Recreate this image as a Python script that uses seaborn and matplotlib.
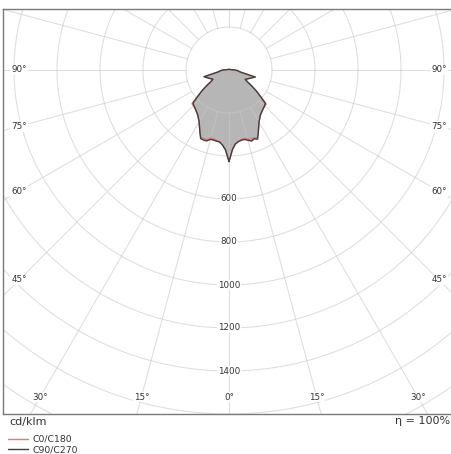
import numpy as np
import matplotlib
matplotlib.use("Agg")
import matplotlib.pyplot as plt
import seaborn as sns
import pandas as pd

# ---------------- data (cd/klm) ----------------
gamma = [0, 2.5, 5, 7.5, 10, 12.5, 15, 17.5, 20, 22.5, 25, 30, 35, 40, 45, 47.5,
         50, 52.5, 55, 57.5, 60, 65, 70, 75, 80, 85, 90, 95, 100, 110, 120, 135, 150, 165, 180]
c0 = [426, 370, 344, 334, 328, 326, 331, 339, 335, 342, 322, 279, 255, 243, 236, 235,
      192, 160, 128, 100, 87, 96, 106, 114, 48, 40, 28, 15, 10, 6, 5, 4, 3, 3, 3]
c180 = [426, 372, 349, 336, 332, 328, 328, 339, 340, 340, 320, 278, 254, 241, 234, 233,
        190, 158, 126, 99, 86, 94, 104, 110, 47, 39, 28, 15, 10, 6, 5, 4, 3, 3, 3]
c90 = [426, 370, 345, 336, 332, 331, 338, 347, 341, 348, 322, 279, 255, 243, 234, 229,
       190, 160, 128, 100, 87, 97, 110, 127, 54, 42, 28, 15, 10, 6, 5, 4, 3, 3, 3]
c270 = [426, 372, 350, 338, 336, 334, 334, 346, 347, 345, 320, 278, 254, 241, 232, 227,
        188, 158, 126, 99, 86, 95, 107, 121, 52, 41, 28, 15, 10, 6, 5, 4, 3, 3, 3]

plane_names = ["C0/C180", "C90/C270"]
plane_colors = ["#e07a7a", "#404040"]
ring_values = [200, 400, 600, 800, 1000, 1200, 1400, 1600, 1800, 2000]
ring_labels = [600, 800, 1000, 1200, 1400]
side_angles = [90, 75, 60, 45]
bottom_angles = [30, 15, 0]
efficiency = "η = 100%"
unit = "cd/klm"


def outline(right, left):
    g = np.radians(np.array(gamma, dtype=float))
    r = np.array(right, dtype=float)
    l = np.array(left, dtype=float)
    xr, yr = r * np.sin(g), -r * np.cos(g)
    xl, yl = -l[::-1] * np.sin(g[::-1]), -l[::-1] * np.cos(g[::-1])
    x = np.concatenate([xr, xl, xr[:1]])
    y = np.concatenate([yr, yl, yr[:1]])
    return x, y


sns.set_theme(style="white")
plt.rcParams["font.family"] = ["DejaVu Sans"]

W, H = 452, 454
fig = plt.figure(figsize=(W / 100, H / 100), dpi=100)
ax = fig.add_axes([3 / W, 40 / H, 449 / W, 405 / H])
scale = 0.215  # px per cd/klm
ax.set_xlim((3 - 229) / scale, (452 - 229) / scale)
ax.set_ylim(-(414 - 70) / scale, (70 - 9) / scale)

# curves
rows = []
polys = []
for name, (rt, lf) in zip(plane_names, [(c0, c180), (c90, c270)]):
    x, y = outline(rt, lf)
    polys.append((x, y))
    for i, (a, b) in enumerate(zip(x, y)):
        rows.append({"plane": name, "x": a, "y": b, "order": i})
df = pd.DataFrame(rows)

for x, y in polys:
    ax.fill(x, y, color="#b6b6b6", lw=0, zorder=1)

# grid
grid_kw = dict(color="#c8c8c8", alpha=0.6, lw=0.75, zorder=2)
t = np.linspace(0, 2 * np.pi, 721)
for rv in ring_values:
    ax.plot(rv * np.cos(t), rv * np.sin(t), **grid_kw)
for a in range(0, 360, 15):
    ar = np.radians(a)
    ax.plot([200 * np.sin(ar), 4000 * np.sin(ar)], [-200 * np.cos(ar), -4000 * np.cos(ar)],
            **grid_kw)

sns.lineplot(data=df, x="x", y="y", hue="plane", palette=dict(zip(plane_names, plane_colors)),
             sort=False, estimator=None, lw=1.0, ax=ax, zorder=3, legend=True)

txt_color = "#333333"
bbox = dict(facecolor="white", edgecolor="none", pad=0.6)
for rv in ring_labels:
    ax.text(0, -rv, str(rv), ha="center", va="center", fontsize=6.3, color=txt_color,
            bbox=bbox, zorder=4)

side_x = 210 / scale
for a in side_angles:
    yy = -side_x / np.tan(np.radians(a)) if a != 90 else 0.0
    for sgn in (-1, 1):
        ax.text(sgn * side_x, yy, f"{a}°", ha="center", va="center", fontsize=6.3,
                color=txt_color, bbox=bbox, zorder=4)
bot_y = -327 / scale
for a in bottom_angles:
    xx = -bot_y * np.tan(np.radians(a))
    for sgn in ((-1, 1) if a else (1,)):
        ax.text(sgn * xx, bot_y, f"{a}°", ha="center", va="center", fontsize=6.3,
                color=txt_color, bbox=bbox, zorder=4)

ax.set_xticks([])
ax.set_yticks([])
ax.set_xlabel("")
ax.set_ylabel("")
for s in ["left", "top", "bottom"]:
    ax.spines[s].set_visible(True)
    ax.spines[s].set_color("#7a7a7a")
    ax.spines[s].set_linewidth(1.0)
ax.spines["right"].set_visible(False)

handles, labels = ax.get_legend_handles_labels()
ax.get_legend().remove()
fig.legend(handles, labels, loc="upper left", bbox_to_anchor=(8 / W, 1 - 435 / H),
           frameon=False, fontsize=6.7, handlelength=2.2, handletextpad=0.45,
           labelspacing=0.12, borderpad=0, borderaxespad=0, labelcolor=txt_color)

fig.text(9 / W, 1 - 421.5 / H, unit, ha="left", va="center", fontsize=8, color=txt_color)
fig.text(450 / W, 1 - 421.5 / H, efficiency, ha="right", va="center", fontsize=8,
         color=txt_color)

fig.savefig("out.png", dpi=100)
